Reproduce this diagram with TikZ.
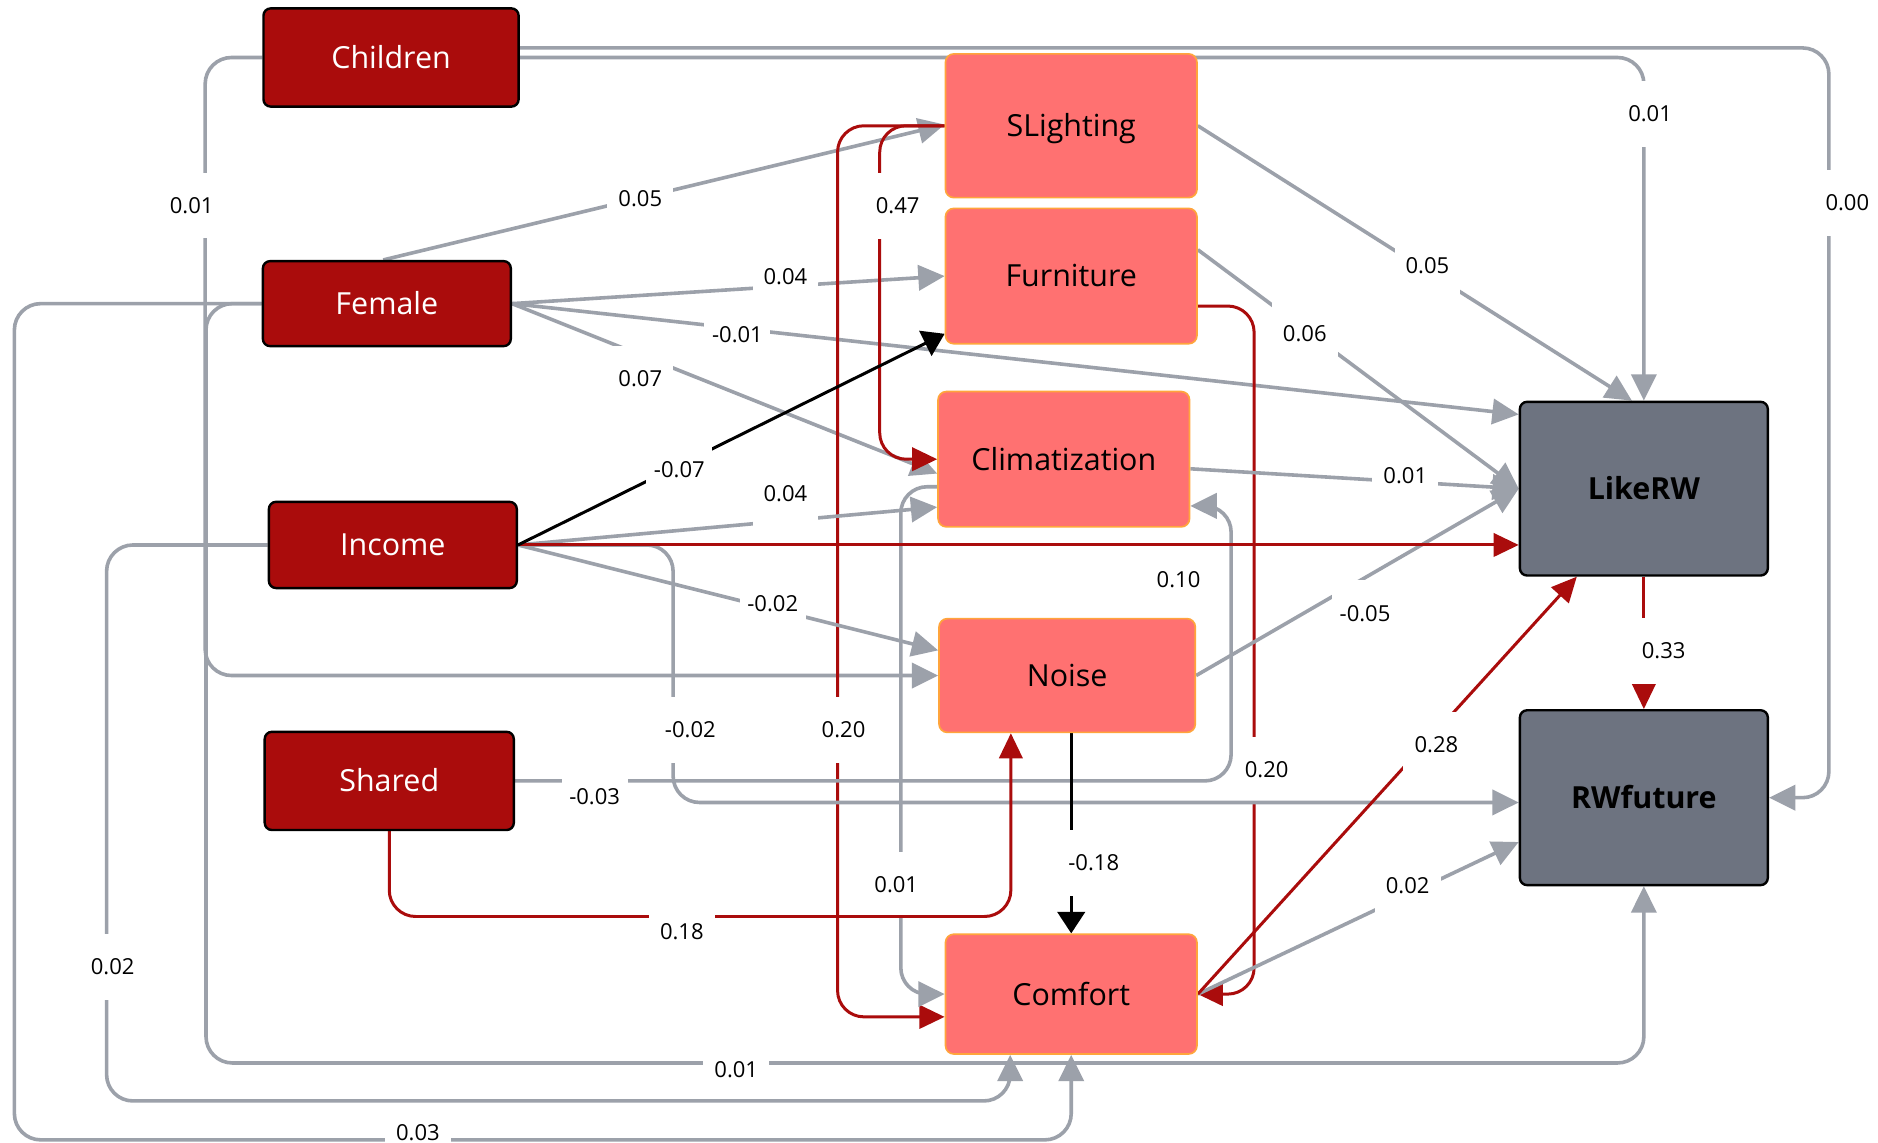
\documentclass[tikz,border=0pt]{standalone}
\usepackage{fontspec}
\setmainfont{Open Sans}
\usetikzlibrary{arrows.meta,calc}

\definecolor{demofill}{RGB}{170,12,12}
\definecolor{medfill}{RGB}{255,113,113}
\definecolor{medrim}{RGB}{255,165,60}
\definecolor{outfill}{RGB}{109,115,128}
\definecolor{pathgray}{RGB}{156,161,170}
\definecolor{pathred}{RGB}{170,12,12}

\pgfdeclarelayer{background}
\pgfsetlayers{background,main}

\tikzset{
  nodefont/.style={font=\fontsize{12.7}{15}\selectfont, text height=9.1pt, text depth=0pt},
  demobox/.style={rectangle, rounded corners=3pt, inner sep=0pt, nodefont,
    fill=demofill, draw=black, line width=1pt, text=white},
  medbox/.style={rectangle, rounded corners=3.5pt, inner sep=0pt, nodefont,
    fill=medfill, draw=medrim, line width=0.7pt, text=black},
  outbox/.style={rectangle, rounded corners=3pt, inner sep=0pt, nodefont,
    font=\fontsize{12.7}{15}\selectfont\bfseries,
    fill=outfill, draw=black, line width=1pt, text=black},
  gline/.style={draw=pathgray, line width=1.5pt, rounded corners=11pt,
    -{Triangle[length=11pt,width=10.5pt]}},
  rline/.style={draw=pathred, line width=1.25pt, rounded corners=11pt,
    -{Triangle[length=10.5pt,width=9.75pt]}},
  kline/.style={draw=black, line width=1.25pt,
    -{Triangle[length=9pt,width=11.5pt]}},
  coef/.style={rectangle, fill=white, inner sep=0pt, minimum width=27.5pt,
    minimum height=27.5pt, font=\fontsize{9.2}{11}\selectfont, text=black},
}

\begin{document}
\begin{tikzpicture}[x=0.5pt, y=-0.5pt]
\useasboundingbox (0,0) rectangle (1568,954);

% socio-demographic predictors
\node[demobox, minimum width=106.5pt, minimum height=41pt] (Children) at (326.5,48) {Children};
\node[demobox, minimum width=103.5pt, minimum height=35.5pt] (Female) at (323,253.5) {Female};
\node[demobox, minimum width=103.5pt, minimum height=36pt] (Income) at (328,455) {Income};
\node[demobox, minimum width=104pt, minimum height=41pt] (Shared) at (325,652) {Shared};

% workspace ratings
\node[medbox, minimum width=105pt, minimum height=60pt] (SLighting) at (894.4,105) {SLighting};
\node[medbox, minimum width=105pt, minimum height=56.5pt] (Furniture) at (894.4,230.5) {Furniture};
\node[medbox, minimum width=105pt, minimum height=56.5pt] (Climatization) at (888.2,383.4) {Climatization};
\node[medbox, minimum width=107pt, minimum height=47.5pt] (Noise) at (891,564) {Noise};
\node[medbox, minimum width=105pt, minimum height=50pt] (Comfort) at (894.4,830) {Comfort};

% outcomes
\node[outbox, minimum width=103.5pt, minimum height=72.5pt] (LikeRW) at (1372.5,408) {LikeRW};
\node[outbox, minimum width=103.5pt, minimum height=73pt] (RWfuture) at (1372.5,666) {RWfuture};

\begin{pgfonlayer}{background}
\fill[white] (0,0) rectangle (1568,954);

% paths leaving Children
\draw[gline] ($(Children.east)+(0,-8)$) -| ($(RWfuture.east)+(50,0)$) -- (RWfuture.east);
\node[coef] (k-ch-rwf) at (1542.4,169.5) {0.00};
\draw[gline] (Children.east) -| (LikeRW.north);
\node[coef] (k-ch-like) at (1377.7,95.2) {0.01};
\draw[gline] (Children.west) -| ($(Noise.west)+(-612,0)$) -- (Noise.west);
\node[coef] (k-ch-noise) at (160,171.6) {0.01};

% long routes along the left and bottom edges
\draw[gline] (Female.west) -| ($(RWfuture.south)+(-1200.5,147.5)$) -| (RWfuture.south);
\node[coef] (k-fe-rwf) at (614.7,892.8) {0.01};
\draw[gline] (Female.west) -| ($(Comfort.south)+(-882.4,71)$) -| (Comfort.south);
\node[coef] (k-fe-comf) at (348.9,945.6) {0.03};
\draw[gline] (Income.west) -| ($(Comfort.south)+(-805.4,38.5)$) -| ($(Comfort.south)+(-51,0)$);
\node[coef] (k-in-comf) at (94.1,807.4) {0.02};

% paths leaving Female
\draw[gline] ($(Female.north)+(-3,0)$) -- ($(SLighting.west)+(0,-1)$);
\node[coef] (k-fe-sl) at (534.6,165.5) {0.05};
\draw[gline] (Female.east) -- (Furniture.west);
\node[coef] (k-fe-fu) at (655.8,231.3) {0.04};
\draw[gline] (Female.east) -- ($(LikeRW.west)+(0,-62)$);
\node[coef] (k-fe-like) at (615.7,279.2) {-0.01};
\draw[gline] (Female.east) -- ($(Climatization.west)+(0,12)$);
\node[coef] (k-fe-cl) at (534.6,316) {0.07};

% paths leaving SLighting and Furniture on the left and right
\draw[rline] (SLighting.west) -| ($(Climatization.west)+(-48,0)$) -- (Climatization.west);
\node[coef] (k-sl-cl) at (749.5,171.7) {0.47};
\draw[rline] (SLighting.west) -| ($(Comfort.west)+(-89.4,19)$) -- ($(Comfort.west)+(0,19)$);
\node[coef] (k-sl-comf) at (704.3,609.5) {0.20};
\draw[rline] ($(Furniture.east)+(0,25)$) -| ($(Comfort.east)+(47,0)$) -- (Comfort.east);
\node[coef] (k-fu-comf) at (1057.6,643) {0.20};

% paths leaving Income
\draw[gline] (Income.east) -| ($(RWfuture.west)+(-706,4)$) -- ($(RWfuture.west)+(0,4)$);
\node[coef] (k-in-rwf) at (576.4,609.5) {-0.02};
\draw[gline] (Income.east) -- ($(Climatization.west)+(0,40)$);
\node[coef] (k-in-cl) at (655.8,412.2) {0.04};
\draw[gline] (Income.east) -- ($(Noise.west)+(0,-21)$);
\node[coef] (k-in-noise) at (645.2,503.7) {-0.02};

% paths leaving Shared
\draw[gline] (Shared.east) -| ($(Climatization.east)+(34,39)$) -- ($(Climatization.east)+(0,39)$);
\node[coef] (k-sh-cl) at (496.5,665.2) {-0.03};
\draw[gline] ($(Climatization.west)+(0,23)$) -| ($(Comfort.west)+(-36.6,0)$) -- (Comfort.west);
\node[coef] (k-cl-comf) at (748.3,739) {0.01};
\draw[rline] (Shared.south) |- ($(Noise.south)+(-47,153)$) -- ($(Noise.south)+(-47,0)$);
\node[coef] (k-sh-noise) at (569.3,778) {0.18};

% ratings towards the outcomes
\draw[gline] (SLighting.east) -- ($(LikeRW.north)+(-10,0)$);
\node[coef] (k-sl-like) at (1191.8,222) {0.05};
\draw[gline] ($(Furniture.east)+(0,-22)$) -- (LikeRW.west);
\node[coef] (k-fu-like) at (1089.4,278.3) {0.06};
\draw[gline] ($(Climatization.east)+(0,8)$) -- (LikeRW.west);
\node[coef] (k-cl-like) at (1173.3,397.4) {0.01};
\draw[gline] (Noise.east) -- (LikeRW.west);
\node[coef] (k-no-like) at (1139.7,512) {-0.05};
\draw[gline] (Comfort.east) -- ($(RWfuture.west)+(0,37)$);
\node[coef] (k-comf-rwf) at (1175.3,739.2) {0.02};

\node[coef] (k-in-like) at (984,484) {0.10};
\draw[rline] (Income.east) -- (Income.east -| LikeRW.west);
\draw[rline] (Comfort.east) -- ($(LikeRW.south)+(-56,0)$);
\node[coef] (k-comf-like) at (1199.3,622) {0.28};
\draw[rline] (LikeRW.south) -- (RWfuture.north);
\node[coef] (k-like-rwf) at (1389,543.5) {0.33};

% negative direct paths
\draw[kline] (Income.east) -- ($(Furniture.south west)+(0,-9)$);
\node[coef] (k-in-fu) at (567.2,392) {-0.07};
\draw[kline] (Noise.south -| Comfort.north) -- (Comfort.north);
\node[coef] (k-no-comf) at (913.2,720.5) {-0.18};
\end{pgfonlayer}
\end{tikzpicture}
\end{document}
